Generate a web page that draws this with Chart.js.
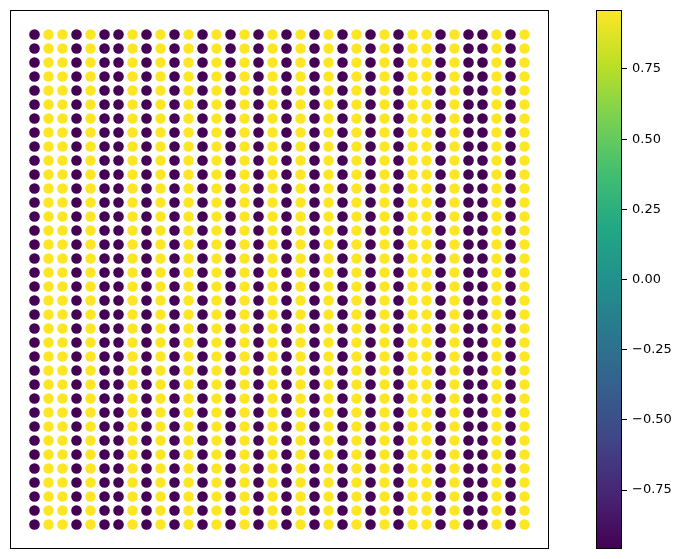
<!DOCTYPE html>
<html>
<head>
<meta charset="utf-8">
<script src="https://cdn.jsdelivr.net/npm/chart.js@4"></script>
<style>
  html, body { margin: 0; padding: 0; background: #fff; }
  #wrap { position: relative; width: 684px; height: 559px; }
  #main { position: absolute; left: 0; top: 0; }
  #cbar { position: absolute; left: 560px; top: 0; }
</style>
</head>
<body>
<div id="wrap">
  <canvas id="main" width="560" height="559"></canvas>
  <canvas id="cbar" width="124" height="559"></canvas>
</div>
<script>
// grid positions (column index, row index)
const xs = [0, 1, 2, 3, 4, 5, 6, 7, 8, 9, 10, 11, 12, 13, 14, 15, 16, 17,
            18, 19, 20, 21, 22, 23, 24, 25, 26, 27, 28, 29, 30, 31, 32, 33, 34, 35];
const ys = [0, 1, 2, 3, 4, 5, 6, 7, 8, 9, 10, 11, 12, 13, 14, 15, 16, 17,
            18, 19, 20, 21, 22, 23, 24, 25, 26, 27, 28, 29, 30, 31, 32, 33, 34, 35];
// value of each column (every row in a column shares it)
const colValues = [-0.96, 0.96, 0.96, -0.96, 0.96, -0.96, -0.96, 0.96, -0.96, 0.96, -0.96, 0.96,
                   -0.96, 0.96, -0.96, 0.96, -0.96, 0.96, -0.96, 0.96, -0.96, 0.96, -0.96, 0.96,
                   -0.96, 0.96, -0.96, 0.96, 0.96, -0.96, 0.96, -0.96, -0.96, 0.96, -0.96, 0.96];
// colorbar range and ticks
const cbMin = -0.96;
const cbMax = 0.96;
const cbTicks = [-0.75, -0.5, -0.25, 0, 0.25, 0.5, 0.75];

// viridis colour stops
const viridis = ['#440154', '#482475', '#414487', '#355f8d', '#2a788e', '#21918c',
                 '#22a884', '#44bf70', '#7ad151', '#bddf26', '#fde725'];

const hexToRgb = (h) => [1, 3, 5].map(i => parseInt(h.substr(i, 2), 16));

// map value to a viridis colour
const colorFor = (v) => {
    let t = (v - cbMin) / (cbMax - cbMin);
    t = Math.max(0, Math.min(1, t));
    const pos = t * (viridis.length - 1);
    const i = Math.min(Math.floor(pos), viridis.length - 2);
    const f = pos - i;
    const a = hexToRgb(viridis[i]);
    const b = hexToRgb(viridis[i + 1]);
    const c = a.map((x, k) => Math.round(x + (b[k] - x) * f));
    return `rgb(${c[0]},${c[1]},${c[2]})`;
};

// build points
const points = [];
const pointColors = [];
xs.forEach((x, i) => {
    ys.forEach(y => {
        points.push({ x: x, y: y });
        pointColors.push(colorFor(colValues[i]));
    });
});

// draws a frame around the plot area
const frame = {
    id: 'frame',
    afterDraw: (chart) => {
        const { ctx, chartArea: a } = chart;
        ctx.save();
        ctx.strokeStyle = '#000';
        ctx.lineWidth = 1;
        ctx.strokeRect(a.left + 0.5, a.top + 0.5, a.right - a.left - 1, a.bottom - a.top - 1);
        ctx.restore();
    }
};

Chart.defaults.font.family = '"DejaVu Sans", sans-serif';
Chart.defaults.color = '#000';

new Chart(document.getElementById('main'), {
    type: 'scatter',
    data: {
        datasets: [{
            data: points,
            pointBackgroundColor: pointColors,
            pointBorderWidth: 0,
            pointRadius: 5.3,
            pointHoverRadius: 5.3,
        }],
    },
    options: {
        responsive: false,
        animation: false,
        layout: { padding: { left: 10, right: 11, top: 10, bottom: 10 } },
        plugins: { legend: { display: false }, tooltip: { enabled: false } },
        scales: {
            x: { display: false, min: -1.75, max: 36.75 },
            y: { display: false, min: -1.75, max: 36.75 },
        },
    },
    plugins: [frame],
});

// colorbar: a single floating bar filled with a viridis gradient
new Chart(document.getElementById('cbar'), {
    type: 'bar',
    data: {
        labels: [''],
        datasets: [{
            data: [[cbMin, cbMax]],
            backgroundColor: (c) => {
                const a = c.chart.chartArea;
                if (!a) return viridis[0];
                const g = c.chart.ctx.createLinearGradient(0, a.bottom, 0, a.top);
                viridis.forEach((col, i) => g.addColorStop(i / (viridis.length - 1), col));
                return g;
            },
            borderWidth: 0,
            barPercentage: 1,
            categoryPercentage: 1,
        }],
    },
    options: {
        responsive: false,
        animation: false,
        layout: { padding: { left: 36, right: 0, top: 10, bottom: 10 } },
        plugins: { legend: { display: false }, tooltip: { enabled: false } },
        scales: {
            x: { display: false },
            y: {
                position: 'right',
                min: cbMin,
                max: cbMax,
                afterBuildTicks: (s) => { s.ticks = cbTicks.map(v => ({ value: v })); },
                afterFit: (s) => { s.width = 62; s.paddingTop = 0; s.paddingBottom = 0; },
                grid: { drawOnChartArea: false, drawTicks: true, tickLength: 5, color: '#000' },
                border: { display: false },
                ticks: {
                    padding: 5,
                    font: { size: 13 },
                    callback: (v) => Number(v).toFixed(2).replace('-', '\u2212'),
                },
            },
        },
    },
    plugins: [frame],
});
</script>
</body>
</html>
